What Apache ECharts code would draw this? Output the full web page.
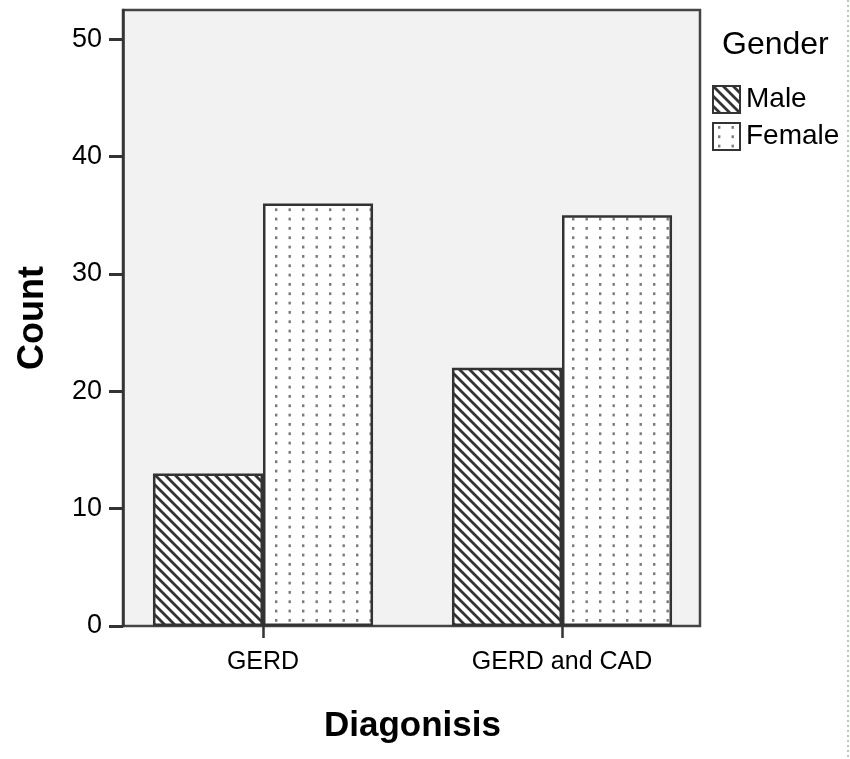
<!DOCTYPE html>
<html>
<head>
<meta charset="utf-8">
<script src="https://cdn.jsdelivr.net/npm/echarts@6/dist/echarts.min.js"></script>
<style>
html,body{margin:0;padding:0;background:#fff;}
#chart{width:850px;height:759px;}
</style>
</head>
<body>
<div id="chart"></div>
<script>
const categories = ['GERD', 'GERD and CAD'];
const maleValues = [13, 22];
const femaleValues = [36, 35];
const yTicks = [0, 10, 20, 30, 40, 50];
const seriesNames = ['Male', 'Female'];
const legendTitle = 'Gender';
const xTitle = 'Diagonisis';
const yTitle = 'Count';

function hatchPattern() {
  const p = 10;
  const c = document.createElement('canvas');
  c.width = p; c.height = p;
  const g = c.getContext('2d');
  g.fillStyle = '#fff';
  g.fillRect(0, 0, p, p);
  g.strokeStyle = '#333';
  g.lineWidth = 2.8;
  g.beginPath();
  g.moveTo(-2, -2); g.lineTo(p + 2, p + 2);
  g.moveTo(-2, p - 2); g.lineTo(2, p + 2);
  g.moveTo(p - 2, -2); g.lineTo(p + 2, 2);
  g.stroke();
  return c;
}
function dotPattern() {
  const c = document.createElement('canvas');
  c.width = 27; c.height = 28;
  const g = c.getContext('2d');
  g.fillStyle = '#fff';
  g.fillRect(0, 0, 27, 28);
  g.fillStyle = '#7a7a7a';
  for (let i = 0; i < 2; i++) {
    for (let j = 0; j < 3; j++) {
      g.fillRect(5 + i * 13.5, 3 + j * 9.33, 2.4, 2.8);
    }
  }
  return c;
}

const chart = echarts.init(document.getElementById('chart'));
const fontFam = 'Liberation Sans, Arial, sans-serif';

chart.setOption({
  animation: false,
  backgroundColor: '#fff',
  title: {
    text: legendTitle,
    left: 722, top: 29, padding: 0,
    textStyle: { fontFamily: fontFam, fontSize: 32, fontWeight: 'normal', color: '#000' }
  },
  legend: {
    orient: 'vertical',
    left: 712, top: 85, padding: 0,
    itemWidth: 27, itemHeight: 27, itemGap: 8,
    icon: 'rect',
    data: seriesNames,
    textStyle: { fontFamily: fontFam, fontSize: 28, color: '#000', padding: [0, 0, 0, 1] }
  },
  grid: [
    { left: 123, top: 10, width: 577, height: 616, show: true, backgroundColor: '#f2f2f2',
      borderColor: '#444', borderWidth: 2.5, outerBoundsMode: 'none', containLabel: false },
    { left: 113.5, top: 10, width: 598, height: 616, outerBoundsMode: 'none', containLabel: false }
  ],
  xAxis: [
    { gridIndex: 0, type: 'value', min: 0, max: 1, show: false },
    { gridIndex: 1, type: 'category', data: categories, boundaryGap: true,
      axisLine: { show: false },
      axisTick: { show: true, alignWithLabel: true, length: 12, lineStyle: { color: '#333', width: 2.5 } },
      axisLabel: { fontFamily: fontFam, fontSize: 25, color: '#000', margin: 24 },
      name: xTitle, nameLocation: 'middle', nameGap: 83,
      nameTextStyle: { fontFamily: fontFam, fontSize: 35, fontWeight: 'bold', color: '#000' }
    }
  ],
  yAxis: [
    { gridIndex: 0, type: 'value', min: 0, max: 52.5,
      axisLine: { show: true, lineStyle: { color: '#333', width: 2.5 } },
      axisTick: { show: true, length: 14, customValues: yTicks, lineStyle: { color: '#333', width: 3 } },
      axisLabel: { customValues: yTicks, fontFamily: fontFam, fontSize: 27, color: '#000', margin: 21 },
      splitLine: { show: false },
      name: yTitle, nameLocation: 'middle', nameGap: 72, nameRotate: 90,
      nameTextStyle: { fontFamily: fontFam, fontSize: 36, fontWeight: 'bold', color: '#000' }
    },
    { gridIndex: 1, type: 'value', min: 0, max: 52.5, show: false }
  ],
  series: [
    { name: seriesNames[0], type: 'bar', xAxisIndex: 1, yAxisIndex: 1, data: maleValues,
      barGap: '0%', barCategoryGap: '26.4%',
      itemStyle: { color: { image: hatchPattern(), repeat: 'repeat' }, borderColor: '#333', borderWidth: 2.5 } },
    { name: seriesNames[1], type: 'bar', xAxisIndex: 1, yAxisIndex: 1, data: femaleValues,
      barGap: '0%', barCategoryGap: '26.4%',
      itemStyle: { color: { image: dotPattern(), repeat: 'repeat' }, borderColor: '#333', borderWidth: 2.5 } }
  ],
  graphic: [
    { type: 'line', shape: { x1: 848, y1: 0, x2: 848, y2: 759 },
      style: { stroke: '#6a9a6a', lineWidth: 1, lineDash: [2, 3] } }
  ]
});
</script>
</body>
</html>
